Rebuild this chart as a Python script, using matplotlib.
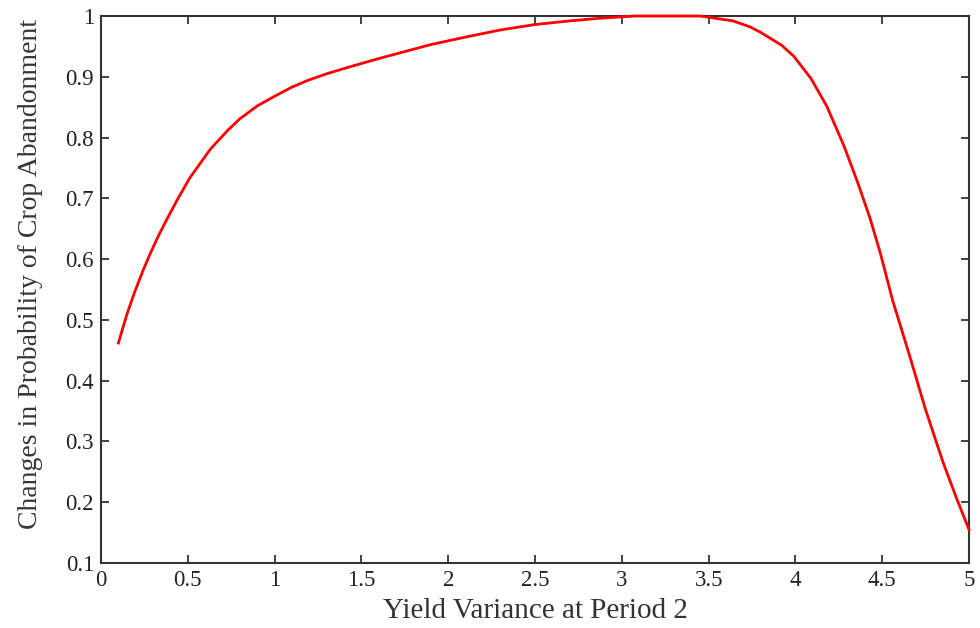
import matplotlib
matplotlib.use("Agg")
import matplotlib.pyplot as plt

# valores
variancia = [0.10, 0.15, 0.19, 0.24, 0.28, 0.33, 0.38, 0.44, 0.51, 0.63,
             0.73, 0.80, 0.90, 1.00, 1.10, 1.19, 1.30, 1.44, 1.60, 1.73,
             1.90, 2.11, 2.30, 2.50, 2.70, 2.86, 3.07, 3.45, 3.64, 3.74,
             3.80, 3.92, 3.99, 4.09, 4.18, 4.28, 4.36, 4.43, 4.49, 4.56,
             4.66, 4.75, 4.85, 4.93, 5.00]
prob = [0.462, 0.510, 0.543, 0.580, 0.607, 0.638, 0.666, 0.698, 0.733, 0.781,
        0.812, 0.831, 0.852, 0.868, 0.883, 0.894, 0.905, 0.917, 0.930, 0.940,
        0.953, 0.966, 0.977, 0.986, 0.992, 0.996, 1.000, 1.000, 0.992, 0.982,
        0.973, 0.952, 0.934, 0.897, 0.852, 0.786, 0.725, 0.667, 0.609, 0.532,
        0.439, 0.352, 0.266, 0.205, 0.155]

xticks = [0, 0.5, 1, 1.5, 2, 2.5, 3, 3.5, 4, 4.5, 5]
xlabels = ["0", "0.5", "1", "1.5", "2", "2.5", "3", "3.5", "4", "4.5", "5"]
yticks = [0.1, 0.2, 0.3, 0.4, 0.5, 0.6, 0.7, 0.8, 0.9, 1.0]
ylabels = ["0.1", "0.2", "0.3", "0.4", "0.5", "0.6", "0.7", "0.8", "0.9", "1"]

plt.rcParams["font.family"] = ["Liberation Serif", "DejaVu Serif"]

fig = plt.figure(figsize=(9.8, 6.28), dpi=100)
ax = fig.add_axes([0.1031, 0.1035, 0.8857, 0.871])
ax.plot(variancia, prob, color="red", linewidth=2.0, clip_on=False, zorder=3)

ax.set_xlim(0, 5)
ax.set_ylim(0.1, 1)
ax.set_xticks(xticks)
ax.set_xticklabels(xlabels)
ax.set_yticks(yticks)
ax.set_yticklabels(ylabels)
ax.tick_params(direction="in", length=6, width=1.2, top=True, right=True,
               labelsize=16.5, colors="#222222", pad=5)
for s in ax.spines.values():
    s.set_linewidth(1.5)
    s.set_color("#333333")

ax.set_xlabel("Yield Variance at Period 2", fontsize=21, color="#333333", labelpad=5)
ax.set_ylabel("Changes in Probability of Crop Abandonment", fontsize=20, color="#3a3535")
ax.yaxis.set_label_coords(-0.067, 0.528)

plt.savefig("out.png")
